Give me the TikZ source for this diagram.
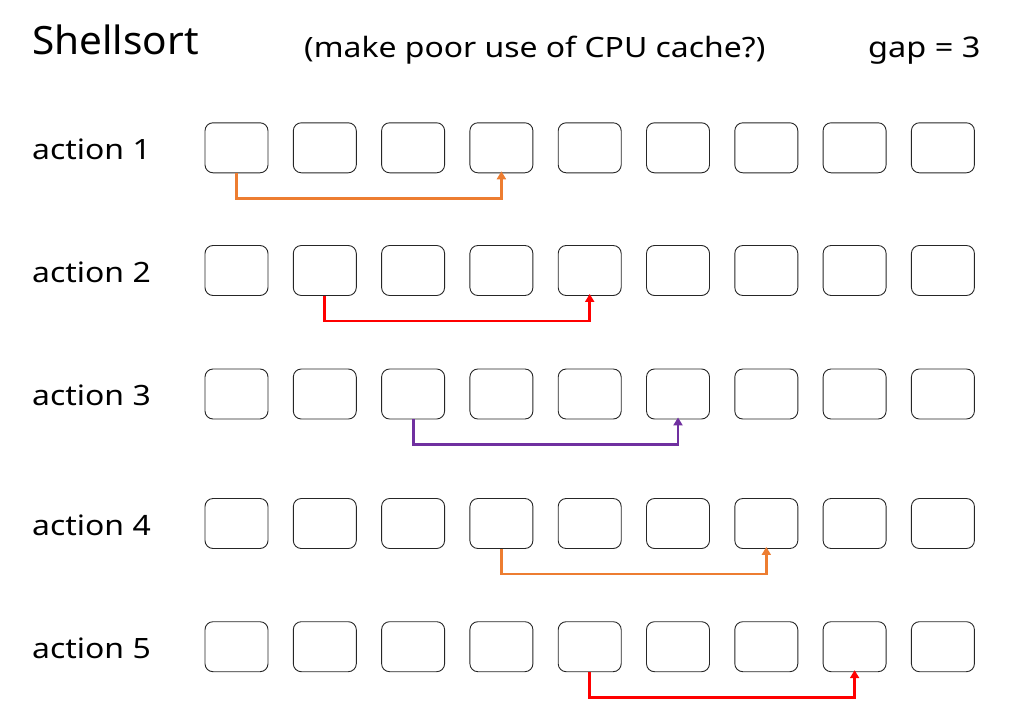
\documentclass[tikz,border=0pt]{standalone}
\usepackage{fontspec}
\setmainfont{Noto Sans}
\newfontfamily\widefont[FakeStretch=1.14]{Noto Sans}
\newfontfamily\titlefont[FakeStretch=1.04]{Noto Sans}
\usetikzlibrary{arrows.meta}
\definecolor{aorange}{RGB}{237,125,49}
\definecolor{ared}{RGB}{255,0,0}
\definecolor{apurple}{RGB}{112,48,160}
\begin{document}
\begin{tikzpicture}[x=1pt,y=-1pt,
  cell/.style={draw=black!85,line width=0.9pt,rounded corners=8pt,minimum width=63pt,minimum height=50pt,inner sep=0pt},
  lbl/.style={anchor=base west,inner sep=0pt,font=\widefont\fontsize{28}{32}\selectfont},
  conn/.style={line width=2.8pt,-{Triangle[width=9pt,length=8pt]}}]
\useasboundingbox (0,0) rectangle (1027,725);
\node[anchor=base west,inner sep=0pt,font=\titlefont\fontsize{39}{44}\selectfont] (title) at (32,55) {Shellsort};
\node[lbl] (sub) at (304,57) {(make poor use of CPU cache?)};
\node[lbl,font=\widefont\fontsize{28.5}{32}\selectfont] (gap) at (868,57) {gap = 3};
\foreach \r/\yc in {1/147.8,2/270.5,3/394,4/523.5,5/646.7}{
  \node[lbl] (l\r) at (32,\yc+11.5) {action \r};
  \foreach \i in {1,...,9}{
    \node[cell] (b\r-\i) at ({236.5+88.3*(\i-1)},\yc) {};
  }
}
\draw[conn,aorange] (b1-1.south) -- ++(0,25) -| ([yshift=2pt]b1-4.south);
\draw[conn,ared] (b2-2.south) -- ++(0,25) -| ([yshift=2pt]b2-5.south);
\draw[conn,apurple] (b3-3.south) -- ++(0,25) -| ([yshift=2pt]b3-6.south);
\draw[conn,aorange] (b4-4.south) -- ++(0,25) -| ([yshift=2pt]b4-7.south);
\draw[conn,ared] (b5-5.south) -- ++(0,25) -| ([yshift=2pt]b5-8.south);
\end{tikzpicture}
\end{document}
